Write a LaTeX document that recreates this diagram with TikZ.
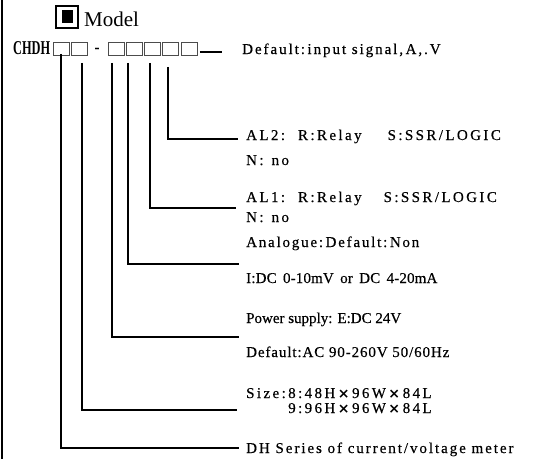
\documentclass[tikz,border=0pt]{standalone}
\usepackage{fontspec}
\usepackage{tikz}
\usetikzlibrary{calc}
\newfontfamily\lblfont[FakeBold=0.4]{Liberation Serif}
\newfontfamily\hdrfont{Liberation Serif}
\newfontfamily\xfont{DejaVu Sans}
\newcommand\bigx{{\xfont\bfseries\fontsize{14}{15}\selectfont ×}}

\tikzset{
  lbl/.style={anchor=base west, inner sep=0pt, font=\lblfont\addfontfeature{LetterSpace=#1}\fontsize{15}{18}\selectfont},
  lbl/.default=12,
  digit/.style={draw=black!70, line width=0.8pt, minimum width=16pt, minimum height=13pt, inner sep=0pt},
  lead/.style={line width=2.5pt}
}

\begin{document}
\begin{tikzpicture}[x=1pt, y=-1pt]
\useasboundingbox (0,0) rectangle (534,460);

% border on the left
\draw[lead] (2,0) -- (2,459);

% title
\node[draw, line width=2pt, minimum size=22pt, inner sep=0pt] (icon) at (67,17) {};
\fill ($(icon.center)+(-5.5,-6.5)$) rectangle ++(11,13);
\node[anchor=base west, inner sep=0pt, font=\hdrfont\fontsize{21}{24}\selectfont] (mdl) at (84,27) {Model};

% model code
\node[anchor=base west, inner sep=0pt, font=\hdrfont\bfseries\fontsize{19.6}{22}\selectfont] (code) at (13,55) {\scalebox{0.63}[1]{CHDH}};
\node[digit] (b1) at (61.5,49) {};
\node[digit] (b2) at (79.5,49) {};
\node[lbl, anchor=center] (dash) at (97,50) {-};
\node[digit] (b3) at (116,49) {};
\node[digit] (b4) at (134.5,49) {};
\node[digit] (b5) at (152.5,49) {};
\node[digit] (b6) at (170.5,49) {};
\node[digit] (b7) at (189.5,49) {};

% ends of the leads
\coordinate (e7) at (222,52);
\coordinate (e6) at (238,139);
\coordinate (e5) at (236,208);
\coordinate (e4) at (239,264);
\coordinate (e3) at (239,337);
\coordinate (e2) at (237,410);
\coordinate (e1) at (239,448);

% texts
\node[lbl=13] (tdef) at (242,54) {Default:\,input signal,\,A,.V};
\node[lbl=16] (tal2) at (246,140) {AL2:\hspace{13pt}R:Relay\hspace{26pt}S:SSR/LOGIC};
\node[lbl=16] (tal2n) at (246,165) {N:\hspace{8pt}no};
\node[lbl=16] (tal1) at (246,202) {AL1:\hspace{13pt}R:Relay\hspace{22pt}S:SSR/LOGIC};
\node[lbl=16] (tal1n) at (246,222) {N:\hspace{8pt}no};
\node[lbl=12] (tana) at (246,247) {Analogue:\,Default:\,Non};
\node[lbl=1] (tanb) at (246,283) {I:DC\, 0-10mV\, or\, DC\, 4-20mA};
\node[lbl=0] (tpow) at (246,323) {Power supply: E:DC 24V};
\node[lbl=6] (tpowb) at (246,357) {Default:AC 90-260V 50/60Hz};
\node[lbl=16] (tsize) at (246,398) {Size:8:48H\,\bigx\,96W\,\bigx\,84L};
\node[lbl=16, anchor=base east] (tsizeb) at (tsize.base east |- 0,413) {9:96H\,\bigx\,96W\,\bigx\,84L};
\node[lbl=13] (tdh) at (246,453) {DH Series of current/voltage meter};

% leads
\draw[lead] ([xshift=2pt,yshift=-3pt]b7.east) -- (e7);
\draw[lead] ([xshift=-2.5pt,yshift=-11pt]b6.south) |- (e6);
\draw[lead] ([xshift=-2.5pt,yshift=-7pt]b5.south) |- (e5);
\draw[lead] ([xshift=-6.5pt,yshift=-7pt]b4.south) |- (e4);
\draw[lead] ([xshift=-4pt,yshift=-7pt]b3.south) |- (e3);
\draw[lead] ([xshift=2.5pt,yshift=-7pt]b2.south) |- (e2);
\draw[lead] ([xshift=-0.5pt,yshift=2pt]b1.south) |- (e1);

\end{tikzpicture}
\end{document}
